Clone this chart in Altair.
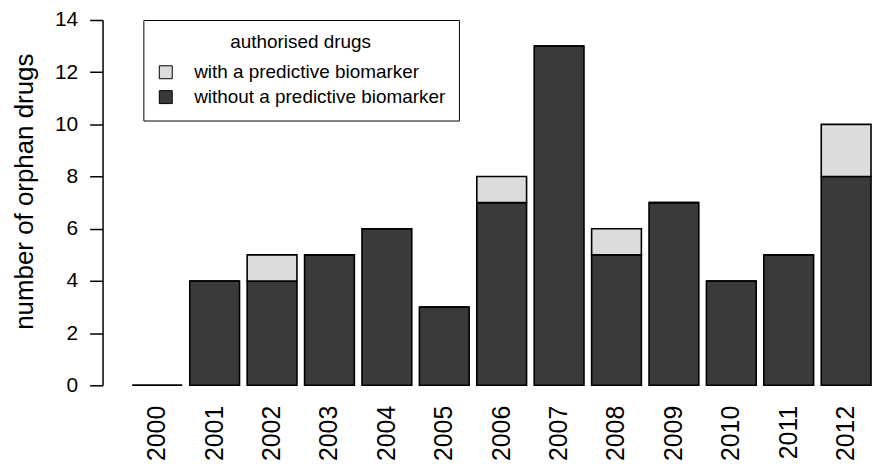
import altair as alt
import pandas as pd

years = ["2000", "2001", "2002", "2003", "2004", "2005", "2006",
         "2007", "2008", "2009", "2010", "2011", "2012"]
without_biomarker = [0, 4, 4, 5, 6, 3, 7, 13, 5, 7, 4, 5, 8]
with_biomarker = [0, 0, 1, 0, 0, 0, 1, 0, 1, 0, 0, 0, 2]

cat_with = "with a predictive biomarker"
cat_without = "without a predictive biomarker"

rows = []
for y, wo, w in zip(years, without_biomarker, with_biomarker):
    rows.append({"year": y, "type": cat_without, "count": wo, "ord": 0})
    rows.append({"year": y, "type": cat_with, "count": w, "ord": 1})
df = pd.DataFrame(rows)

FONT = "Liberation Sans"

chart = alt.Chart(df).mark_bar(stroke="black", strokeWidth=1.6).encode(
    x=alt.X("year:N", sort=years,
            scale=alt.Scale(paddingInner=0.133, paddingOuter=0.268, align=0.968),
            axis=alt.Axis(title=None, domain=False, ticks=False, tickSize=0,
                          labelAngle=270, labelAlign="right", labelBaseline="middle",
                          labelPadding=20, labelFontSize=25, labelFont=FONT,
                          labelColor="black")),
    y=alt.Y("count:Q", stack="zero",
            scale=alt.Scale(domain=[0, 14], nice=False),
            axis=alt.Axis(title="number of orphan drugs", values=list(range(0, 15, 2)),
                          grid=False, domainColor="black", domainWidth=1.5,
                          tickColor="black", tickWidth=1.5, tickSize=13,
                          labelPadding=12, labelFontSize=21, labelFont=FONT,
                          labelColor="black",
                          titleFont=FONT, titleFontSize=26, titleFontWeight="normal",
                          titleColor="black", titleAngle=270, titleAlign="center",
                          titleBaseline="alphabetic", titleX=-70, titleY=172)),
    color=alt.Color("type:N",
                    scale=alt.Scale(domain=[cat_with, cat_without],
                                    range=["#dcdcdc", "#3a3a3a"]),
                    legend=alt.Legend(title="authorised drugs", orient="none",
                                      legendX=41, legendY=0,
                                      strokeColor="black", fillColor="white",
                                      padding=13, titleFont=FONT, titleFontSize=19,
                                      titleFontWeight="normal", titleColor="black",
                                      titleAnchor="middle", titlePadding=11,
                                      titleLimit=400,
                                      labelFont=FONT, labelFontSize=19,
                                      labelColor="black", labelOffset=19,
                                      labelLimit=400,
                                      symbolType="square", symbolSize=169,
                                      symbolStrokeColor="black", symbolStrokeWidth=1,
                                      rowPadding=5)),
    order=alt.Order("ord:Q", sort="ascending"),
).properties(
    width=773,
    height=367,
    autosize=alt.AutoSizeParams(type="none"),
    padding={"left": 95, "top": 11, "right": 0, "bottom": 76},
    background="white",
).configure_view(stroke=None)

chart.save("out.html", embed_options={"renderer": "svg", "actions": False})
